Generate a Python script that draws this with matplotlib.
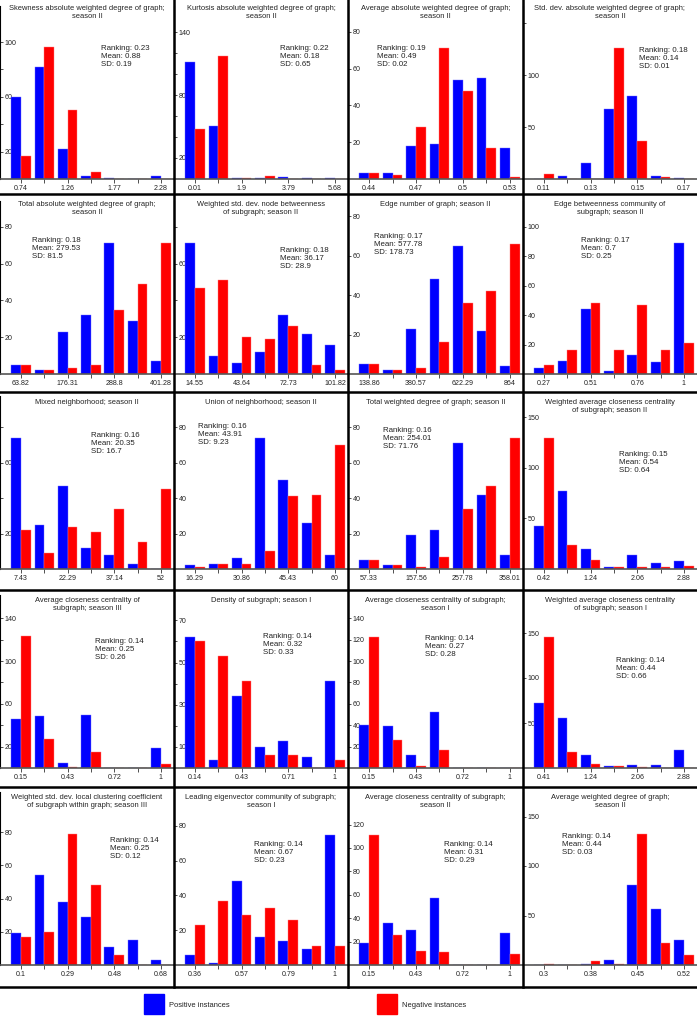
import matplotlib
matplotlib.use("Agg")
import matplotlib.pyplot as plt
from matplotlib.lines import Line2D
from matplotlib.patches import Rectangle

plt.rcParams['font.family'] = ['Liberation Sans', 'DejaVu Sans']

# panel titles (row by row)
titles = [
    "Skewness absolute weighted degree of graph;\nseason II",
    "Kurtosis absolute weighted degree of graph;\nseason II",
    "Average absolute weighted degree of graph;\nseason II",
    "Std. dev. absolute weighted degree of graph;\nseason II",
    "Total absolute weighted degree of graph;\nseason II",
    "Weighted std. dev. node betweenness\nof subgraph; season II",
    "Edge number of graph; season II",
    "Edge betweenness community of\nsubgraph; season II",
    "Mixed neighborhood; season II",
    "Union of neighborhood; season II",
    "Total weighted degree of graph; season II",
    "Weighted average closeness centrality\nof subgraph; season II",
    "Average closeness centrality of\nsubgraph; season III",
    "Density of subgraph; season I",
    "Average closeness centrality of subgraph;\nseason I",
    "Weighted average closeness centrality\nof subgraph; season I",
    "Weighted std. dev. local clustering coefficient\nof subgraph within graph; season III",
    "Leading eigenvector community of subgraph;\nseason I",
    "Average closeness centrality of subgraph;\nseason II",
    "Average weighted degree of graph;\nseason II",
]

# counts per bin, positive instances
positive = [
    [60, 82, 22, 2, 1, 0, 2],
    [111, 50, 1, 1, 2, 1, 1],
    [3, 3, 18, 19, 54, 55, 17],
    [0, 3, 15, 67, 80, 3, 1],
    [5, 2, 23, 32, 71, 29, 7],
    [71, 10, 6, 12, 32, 22, 16],
    [5, 2, 23, 48, 65, 22, 4],
    [4, 9, 44, 2, 13, 8, 89],
    [74, 25, 47, 12, 8, 3, 0],
    [2, 3, 6, 74, 50, 26, 8],
    [5, 2, 19, 22, 71, 42, 8],
    [43, 77, 20, 2, 14, 6, 8],
    [46, 49, 5, 50, 0, 0, 19],
    [62, 4, 34, 10, 13, 5, 41],
    [40, 39, 12, 52, 0, 0, 0],
    [72, 56, 14, 2, 3, 3, 20],
    [19, 54, 38, 29, 11, 15, 3],
    [6, 1, 48, 16, 14, 9, 75],
    [19, 36, 30, 57, 0, 0, 27],
    [0, 0, 1, 5, 81, 57, 25],
]

# counts per bin, negative instances
negative = [
    [17, 96, 50, 5, 0, 0, 0],
    [48, 117, 1, 3, 0, 0, 0],
    [3, 2, 28, 71, 48, 17, 1],
    [5, 0, 0, 126, 37, 2, 0],
    [5, 2, 3, 5, 35, 49, 71],
    [47, 51, 20, 19, 26, 5, 2],
    [5, 2, 3, 16, 36, 42, 66],
    [6, 16, 48, 16, 47, 16, 21],
    [22, 9, 24, 21, 34, 15, 45],
    [1, 3, 3, 10, 41, 42, 70],
    [5, 2, 1, 7, 34, 47, 74],
    [130, 24, 9, 2, 2, 2, 3],
    [123, 27, 1, 15, 0, 0, 4],
    [60, 53, 41, 6, 6, 0, 4],
    [122, 26, 2, 17, 0, 0, 0],
    [146, 18, 4, 2, 1, 0, 0],
    [17, 20, 79, 48, 6, 0, 0],
    [23, 37, 29, 33, 26, 11, 11],
    [111, 26, 12, 11, 0, 0, 9],
    [1, 0, 4, 1, 132, 22, 10],
]

rankings = ["0.23", "0.22", "0.19", "0.18", "0.18", "0.18", "0.17", "0.17",
            "0.16", "0.16", "0.16", "0.15", "0.14", "0.14", "0.14", "0.14",
            "0.14", "0.14", "0.14", "0.14"]
means = ["0.88", "0.18", "0.49", "0.14", "279.53", "36.17", "577.78", "0.7",
         "20.35", "43.91", "254.01", "0.54", "0.25", "0.32", "0.27", "0.44",
         "0.25", "0.67", "0.31", "0.44"]
sds = ["0.19", "0.65", "0.02", "0.01", "81.5", "28.9", "178.73", "0.25",
       "16.7", "9.23", "71.76", "0.64", "0.26", "0.33", "0.28", "0.66",
       "0.12", "0.23", "0.29", "0.03"]

# bin labels (every other bin)
xlabels = [
    ["0.74", "1.26", "1.77", "2.28"],
    ["0.01", "1.9", "3.79", "5.68"],
    ["0.44", "0.47", "0.5", "0.53"],
    ["0.11", "0.13", "0.15", "0.17"],
    ["63.82", "176.31", "288.8", "401.28"],
    ["14.55", "43.64", "72.73", "101.82"],
    ["138.86", "380.57", "622.29", "864"],
    ["0.27", "0.51", "0.76", "1"],
    ["7.43", "22.29", "37.14", "52"],
    ["16.29", "30.86", "45.43", "60"],
    ["57.33", "157.56", "257.78", "358.01"],
    ["0.42", "1.24", "2.06", "2.88"],
    ["0.15", "0.43", "0.72", "1"],
    ["0.14", "0.43", "0.71", "1"],
    ["0.15", "0.43", "0.72", "1"],
    ["0.41", "1.24", "2.06", "2.88"],
    ["0.1", "0.29", "0.48", "0.68"],
    ["0.36", "0.57", "0.79", "1"],
    ["0.15", "0.43", "0.72", "1"],
    ["0.3", "0.38", "0.45", "0.52"],
]

# y ticks and which of them carry a label
yticks = [
    [20, 40, 60, 80, 100], [20, 40, 60, 80, 100, 120, 140], [20, 40, 60, 80],
    [50, 100, 150], [20, 40, 60, 80], [20, 40, 60, 80], [20, 40, 60, 80],
    [20, 40, 60, 80, 100], [20, 40, 60, 80], [20, 40, 60, 80], [20, 40, 60, 80],
    [50, 100, 150], [20, 40, 60, 80, 100, 120, 140], [10, 20, 30, 40, 50, 60, 70],
    [20, 40, 60, 80, 100, 120, 140], [50, 100, 150], [20, 40, 60, 80],
    [20, 40, 60, 80], [20, 40, 60, 80, 100, 120], [50, 100, 150],
]
ylabeled = [
    [20, 60, 100], [20, 80, 140], [20, 40, 60, 80], [50, 100],
    [20, 40, 60, 80], [20, 60], [20, 40, 60, 80], [20, 40, 60, 80, 100],
    [20, 60], [20, 40, 60, 80], [20, 40, 60, 80], [50, 100, 150],
    [20, 60, 100, 140], [10, 30, 50, 70], [20, 40, 60, 80, 100, 120, 140],
    [50, 100, 150], [20, 40, 60, 80], [20, 40, 60, 80],
    [20, 40, 60, 80, 100, 120], [50, 100, 150],
]

# layout (pixels)
W, H = 697, 1021
col_edges = [0, 174, 348, 523, 697]
row_lines = [194, 392, 590, 787, 987]
row_tops = [0, 196, 394, 592, 789]
baselines = [179, 374, 569, 768, 965]
ax_h = 173
px_per_unit = [1.37, 1.05, 1.84, 1.04, 1.84, 1.84, 1.97, 1.47, 1.77, 1.77,
               1.77, 1.01, 1.07, 2.11, 1.07, 0.90, 1.66, 1.74, 1.17, 0.99]
# stats text: x from panel left, y above baseline
text_pos = [(101, 130), (106, 130), (29, 130), (116, 127), (32, 133),
            (106, 123), (26, 137), (58, 133), (91, 133), (24, 141),
            (35, 137), (96, 114), (95, 126), (89, 130), (77, 129),
            (93, 107), (110, 124), (80, 120), (96, 120), (39, 128)]

BLUE = "#0000ff"
RED = "#ff0000"
FS = 5.4


def fx(px):
    return px / W


def fy(py):
    return 1 - py / H


fig = plt.figure(figsize=(W / 100, H / 100), dpi=100)

for i in range(20):
    r, c = divmod(i, 4)
    left = col_edges[c]
    right = col_edges[c + 1]
    base = baselines[r]
    ax = fig.add_axes([fx(left), fy(base), fx(right - left), ax_h / H])
    ax.set_axisbelow(True)
    xs = list(range(7))
    bw = 0.42
    ax.bar([x - bw / 2 for x in xs], positive[i], width=bw, color=BLUE,
           edgecolor="#6f6fff", linewidth=0.3)
    ax.bar([x + bw / 2 for x in xs], negative[i], width=bw, color=RED,
           edgecolor="#ff7f7f", linewidth=0.3)
    ax.set_xlim(-0.9, 6.56)
    ax.set_ylim(0, ax_h / px_per_unit[i])

    ax.set_xticks(xs)
    xl = []
    for k in xs:
        xl.append(xlabels[i][k // 2] if k % 2 == 0 else "")
    ax.set_xticklabels(xl)
    ax.set_yticks(yticks[i])
    ax.set_yticklabels([str(v) if v in ylabeled[i] else "" for v in yticks[i]])

    ax.tick_params(axis="x", direction="out", length=3, width=0.6,
                   colors="#333333", labelsize=FS - 0.3, pad=1.5, labelcolor="#222222")
    ax.tick_params(axis="y", direction="in", length=2.5, width=0.6,
                   colors="#333333", labelsize=FS - 0.3, pad=-3.5, labelcolor="#222222")
    for lbl in ax.get_yticklabels():
        lbl.set_horizontalalignment("left")

    for s in ["top", "right"]:
        ax.spines[s].set_visible(False)
    ax.spines["left"].set_color("black")
    ax.spines["left"].set_linewidth(0.8)
    ax.spines["bottom"].set_color("#555555")
    ax.spines["bottom"].set_linewidth(1.2)
    ax.patch.set_alpha(0)

    # title
    fig.text(fx((left + right) / 2), fy(row_tops[r] + 5), titles[i],
             ha="center", va="top", fontsize=FS, linespacing=1.25, color="#222222")
    # stats
    tx, ty = text_pos[i]
    fig.text(fx(left + tx), fy(base - ty),
             "Ranking: %s\nMean: %s\nSD: %s" % (rankings[i], means[i], sds[i]),
             ha="left", va="center", fontsize=FS + 0.3, linespacing=1.2,
             color="#222222")
    # shift stats so first line sits at ty
    fig.texts[-1].set_va("top")
    fig.texts[-1].set_y(fy(base - ty - 4.5))

# panel frame lines
for x in col_edges[1:-1]:
    fig.add_artist(Line2D([fx(x), fx(x)], [fy(0), fy(row_lines[-1])],
                          color="black", lw=1.8, transform=fig.transFigure))
for y in row_lines:
    fig.add_artist(Line2D([0, 1], [fy(y), fy(y)], color="black", lw=1.8,
                          transform=fig.transFigure))

# legend
fig.add_artist(Rectangle((fx(144), fy(1014)), fx(20), 20 / H, color=BLUE,
                         transform=fig.transFigure))
fig.text(fx(169), fy(1005), "Positive instances", ha="left", va="center",
         fontsize=FS, color="#222222")
fig.add_artist(Rectangle((fx(377), fy(1014)), fx(20), 20 / H, color=RED,
                         transform=fig.transFigure))
fig.text(fx(402), fy(1005), "Negative instances", ha="left", va="center",
         fontsize=FS, color="#222222")

fig.savefig("out.png", dpi=100)
